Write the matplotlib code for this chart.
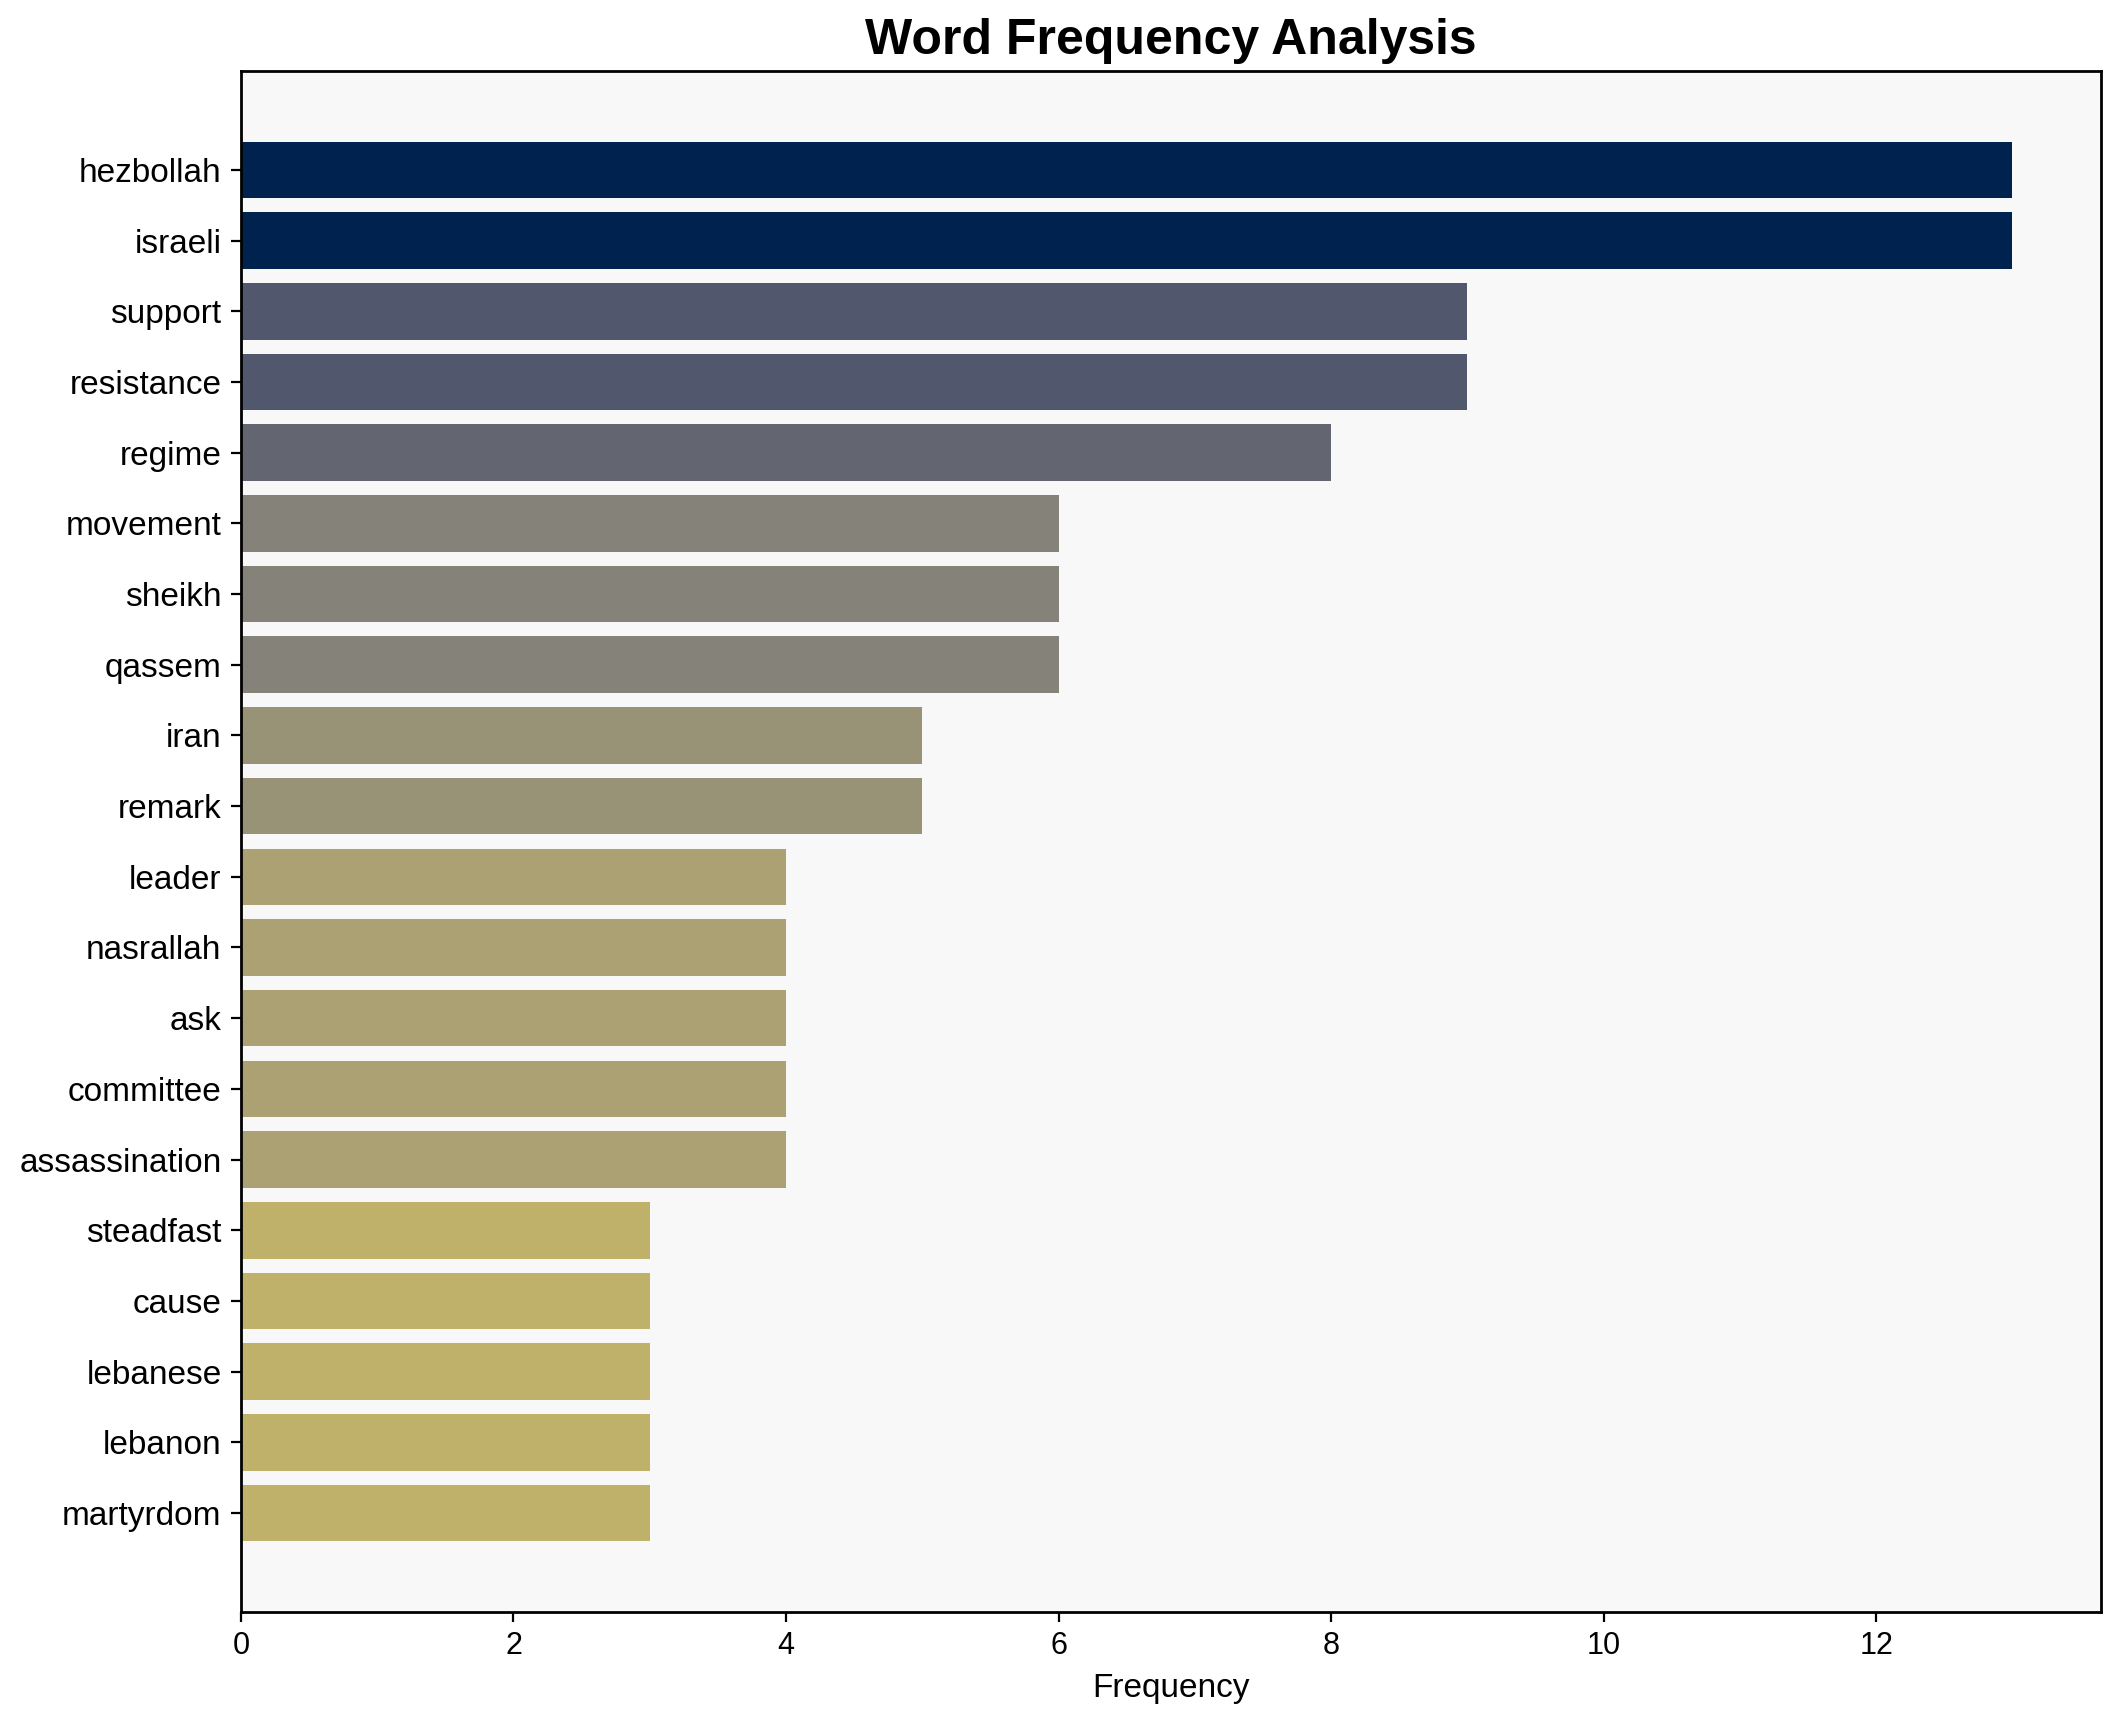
import matplotlib
matplotlib.use("Agg")
import matplotlib.pyplot as plt
import numpy as np

words = ["hezbollah", "israeli", "support", "resistance", "regime", "movement",
         "sheikh", "qassem", "iran", "remark", "leader", "nasrallah", "ask",
         "committee", "assassination", "steadfast", "cause", "lebanese",
         "lebanon", "martyrdom"]
freqs = [13, 13, 9, 9, 8, 6, 6, 6, 5, 5, 4, 4, 4, 4, 4, 3, 3, 3, 3, 3]

plt.rcParams['font.family'] = ['Liberation Sans', 'DejaVu Sans']

fig = plt.figure(figsize=(10.605, 8.61), dpi=200)
ax = fig.add_axes([0.1136, 0.0639, 0.877, 0.8949])
ax.set_facecolor('#f8f8f8')

vals = np.array(freqs, dtype=float)
colors = plt.cm.cividis(1 - vals / vals.max())
y = np.arange(len(words))
ax.barh(y, vals, height=0.8, color=colors)
ax.set_yticks(y)
ax.set_yticklabels(words, fontsize=12)
ax.set_ylim(len(words) - 1 + 1.4, -1.4)
ax.set_xlim(0, vals.max() * 1.05)
ax.tick_params(axis='x', labelsize=11)
ax.set_xlabel('Frequency', fontsize=12)
ax.set_title('Word Frequency Analysis', fontsize=18, fontweight='bold')
for s in ax.spines.values():
    s.set_linewidth(1.0)

fig.savefig('out.png', dpi=200)
